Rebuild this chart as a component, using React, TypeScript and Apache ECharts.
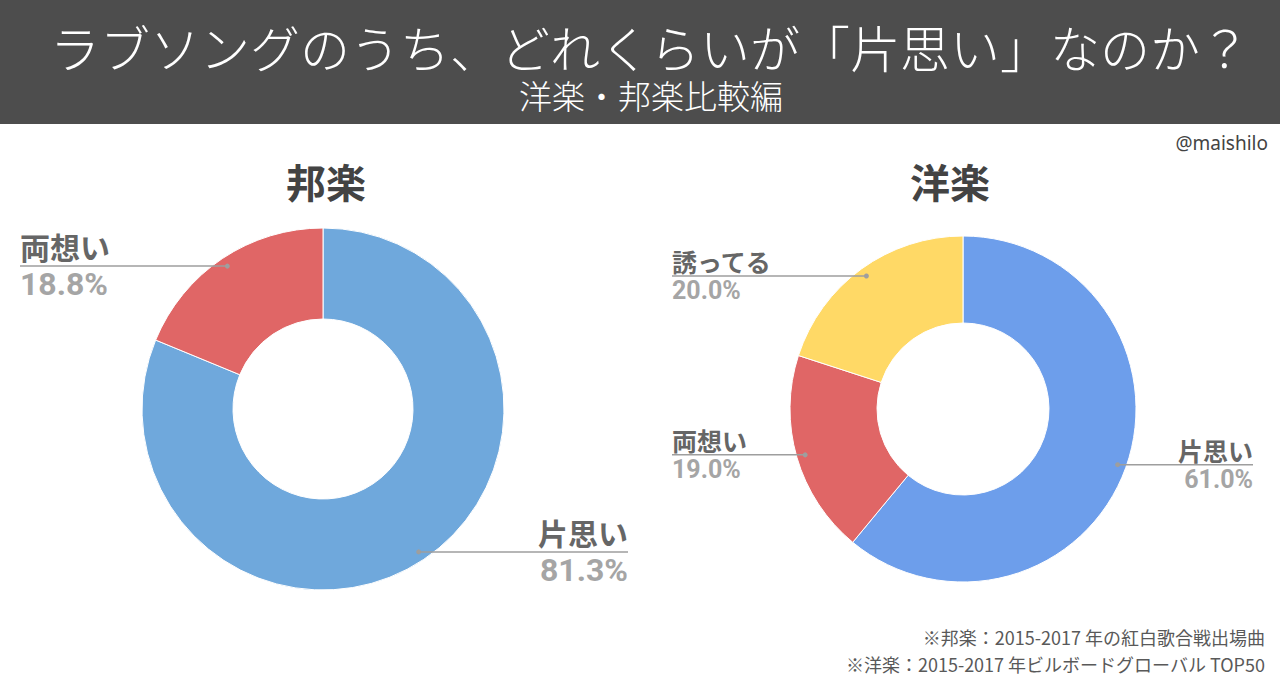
import React, { useEffect, useRef } from "react";
import * as echarts from "echarts";

const headerTitle = "ラブソングのうち、どれくらいが「片思い」なのか？";
const headerSubtitle = "洋楽・邦楽比較編";
const credit = "@maishilo";
const footnotes = [
  "※邦楽：2015-2017 年の紅白歌合戦出場曲",
  "※洋楽：2015-2017 年ビルボードグローバル TOP50",
];

const hougakuTitle = "邦楽";
const hougakuNames = ["片思い", "両想い"];
const hougakuValues = [81.3, 18.8];
const hougakuColors = ["#6fa8dc", "#e06666"];

const yougakuTitle = "洋楽";
const yougakuNames = ["片思い", "両想い", "誘ってる"];
const yougakuValues = [61.0, 19.0, 20.0];
const yougakuColors = ["#6d9eeb", "#e06666", "#ffd966"];

const JP = "'Noto Sans CJK JP', 'Noto Sans', sans-serif";
const NUM = "Roboto, 'Noto Sans CJK JP', sans-serif";
const ANCHOR = 0.95;
const LINE_COLOR = "#9e9e9e";

function makePie(
  names: string[],
  values: number[],
  colors: string[],
  cx: number,
  cy: number,
  r0: number,
  r: number,
  edgeL: number,
  edgeR: number,
  nameSize: number,
  pctSize: number,
  nameLH: number,
  pctLH: number
): any[] {
  const data = names.map((n, i) => ({
    name: n,
    value: values[i],
    itemStyle: { color: colors[i] },
  }));
  const base = {
    type: "pie",
    center: [cx, cy],
    radius: [r0, r],
    startAngle: 90,
    clockwise: true,
    avoidLabelOverlap: false,
    silent: true,
    emphasis: { disabled: true },
  };
  const total = values.reduce((a, b) => a + b, 0);
  return [
    {
      ...base,
      z: 2,
      itemStyle: { borderColor: "#ffffff", borderWidth: 1 },
      data,
      label: { show: false },
      labelLine: { show: false },
    },
    {
      ...base,
      z: 3,
      itemStyle: { color: "rgba(0,0,0,0)", borderWidth: 0 },
      data: names.map((n, i) => ({
        name: n,
        value: values[i],
        itemStyle: { color: "rgba(0,0,0,0)" },
      })),
      label: {
        show: true,
        position: "outside",
        formatter: (p: any) =>
          `{n|${p.name}}\n{p|${Number(p.value).toFixed(1)}%}`,
        rich: {
          n: {
            fontSize: nameSize,
            fontWeight: "bold",
            color: "#666666",
            lineHeight: nameLH,
            fontFamily: JP,
          },
          p: {
            fontSize: pctSize,
            fontWeight: "bold",
            color: "#a5a5a5",
            lineHeight: pctLH,
            fontFamily: NUM,
          },
        },
      },
      labelLine: {
        show: true,
        length: 0,
        length2: 10,
        lineStyle: { color: LINE_COLOR, width: 1.5 },
      },
      labelLayout: (params: any) => {
        const pts = params.labelLinePoints;
        if (!pts || !pts[0]) return {};
        const ax = cx + (pts[0][0] - cx) * ANCHOR;
        const ay = cy + (pts[0][1] - cy) * ANCHOR;
        const isLeft = ax < cx;
        const ex = isLeft ? edgeL : edgeR;
        return {
          x: ex,
          y: ay,
          align: isLeft ? "left" : "right",
          verticalAlign: "middle",
          labelLinePoints: [
            [ax, ay],
            [ex, ay],
          ],
        };
      },
    },
    {
      type: "custom",
      coordinateSystem: "none",
      z: 4,
      silent: true,
      data: values.map((v, i) => [i, v]),
      renderItem: (params: any) => {
        const i = params.dataIndex;
        const before = values.slice(0, i).reduce((a, b) => a + b, 0);
        const mid = ((before + values[i] / 2) / total) * Math.PI * 2;
        const rr = r * ANCHOR;
        return {
          type: "circle",
          shape: {
            cx: cx + rr * Math.sin(mid),
            cy: cy - rr * Math.cos(mid),
            r: 2.5,
          },
          style: { fill: LINE_COLOR },
        };
      },
    },
  ];
}

export default function App() {
  const ref = useRef<HTMLDivElement>(null);
  useEffect(() => {
    document.body.style.margin = "0";
    if (!ref.current) return;
    const chart = echarts.init(ref.current, undefined, { renderer: "svg" });
    chart.setOption({
      animation: false,
      backgroundColor: "#ffffff",
      graphic: [
        {
          type: "rect",
          z: 0,
          shape: { x: 0, y: 0, width: 1280, height: 124 },
          style: { fill: "#4d4d4d" },
        },
        {
          type: "text",
          z: 1,
          x: 650,
          y: 46,
          style: {
            text: headerTitle,
            fill: "#ffffff",
            fontSize: 50,
            fontWeight: 300,
            fontFamily: JP,
            textAlign: "center",
            textVerticalAlign: "middle",
          },
        },
        {
          type: "text",
          z: 1,
          x: 651,
          y: 95,
          style: {
            text: headerSubtitle,
            fill: "#ffffff",
            fontSize: 33,
            fontWeight: 300,
            fontFamily: JP,
            textAlign: "center",
            textVerticalAlign: "middle",
          },
        },
        {
          type: "text",
          z: 1,
          x: 1268,
          y: 143,
          style: {
            text: credit,
            fill: "#434343",
            fontSize: 19,
            fontFamily: "'Noto Sans', sans-serif",
            textAlign: "right",
            textVerticalAlign: "middle",
          },
        },
        {
          type: "text",
          z: 1,
          x: 326,
          y: 181,
          style: {
            text: hougakuTitle,
            fill: "#434343",
            fontSize: 40,
            fontWeight: "bold",
            fontFamily: JP,
            textAlign: "center",
            textVerticalAlign: "middle",
          },
        },
        {
          type: "text",
          z: 1,
          x: 950,
          y: 181,
          style: {
            text: yougakuTitle,
            fill: "#434343",
            fontSize: 40,
            fontWeight: "bold",
            fontFamily: JP,
            textAlign: "center",
            textVerticalAlign: "middle",
          },
        },
        ...footnotes.map((t, i) => ({
          type: "text",
          z: 1,
          x: 1265,
          y: 637 + i * 27,
          style: {
            text: t,
            fill: "#595959",
            fontSize: 18,
            fontFamily: JP,
            textAlign: "right",
            textVerticalAlign: "middle",
          },
        })),
      ],
      series: [
        ...makePie(hougakuNames, hougakuValues, hougakuColors, 323, 409, 90, 181, 20, 628, 30, 32, 36, 40),
        ...makePie(yougakuNames, yougakuValues, yougakuColors, 963, 409, 86, 173, 672, 1253, 25, 25, 29, 30),
      ],
    });
    return () => chart.dispose();
  }, []);
  return <div ref={ref} style={{ width: 1280, height: 682 }} />;
}
